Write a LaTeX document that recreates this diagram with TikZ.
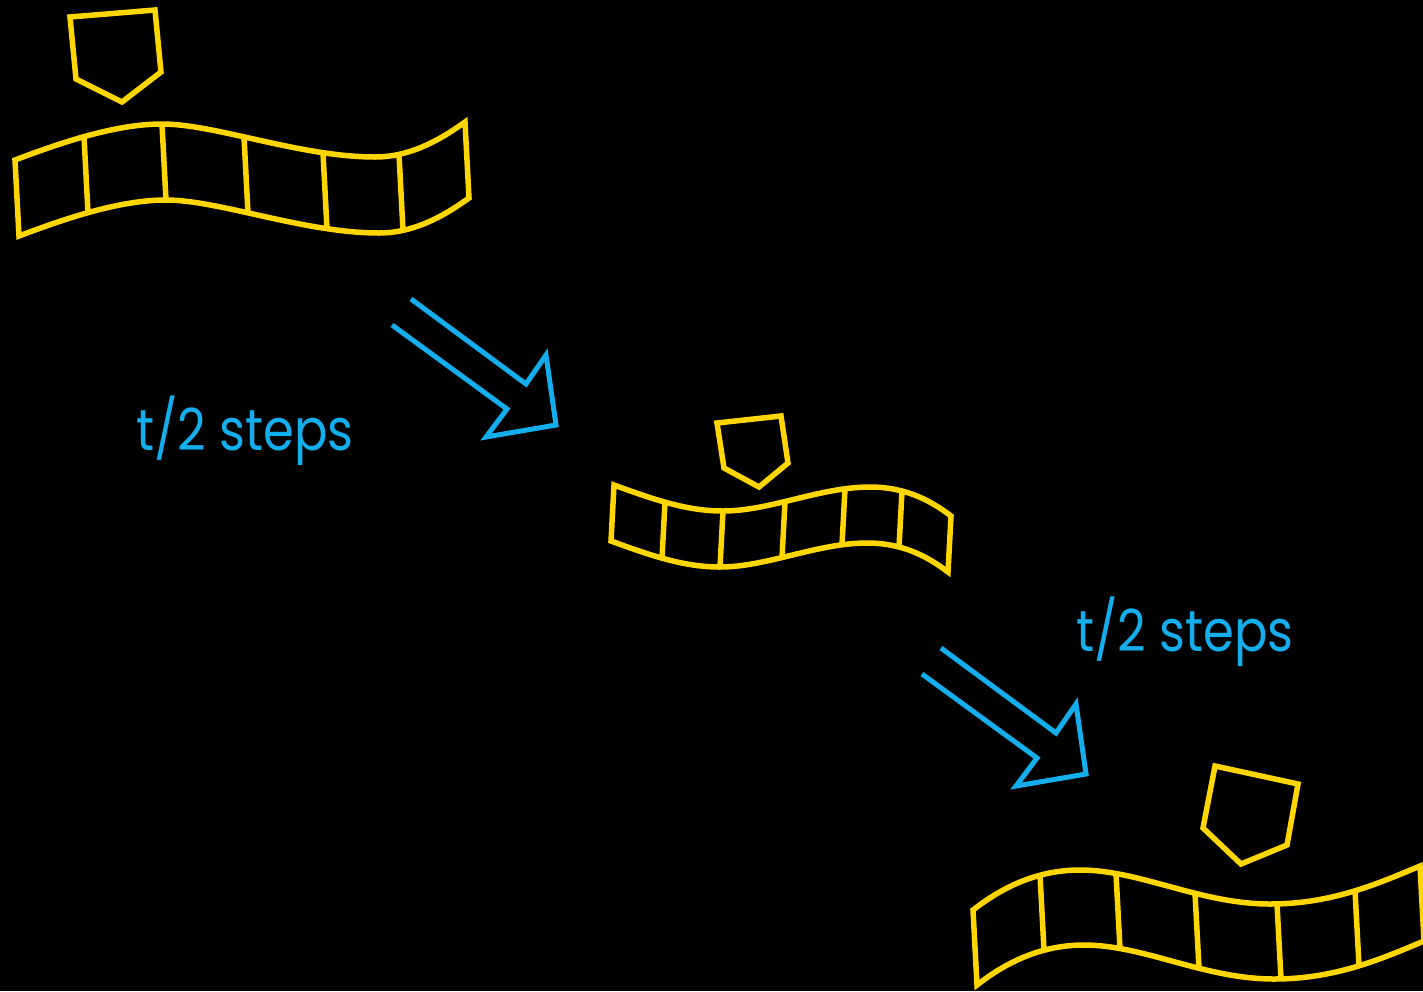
\documentclass[tikz,border=0pt]{standalone}
\usepackage{fontspec}
\setmainfont{Poppins}
\usetikzlibrary{intersections}
\definecolor{tapeyellow}{RGB}{255,214,0}
\definecolor{arrowblue}{RGB}{20,174,237}
\begin{document}
\begin{tikzpicture}[x=1pt,y=-1pt,
  tape/.style={draw=tapeyellow, line width=5.5pt, line join=miter},
  headbox/.style={draw=tapeyellow, line width=5.5pt, line join=miter},
  blockarrow/.style={draw=arrowblue, line width=5pt, line join=miter},
  lbl/.style={text=arrowblue, font=\fontsize{58}{62}\selectfont, anchor=base west, inner sep=0pt}]
\useasboundingbox (0,0) rectangle (1423,991);
\fill[black] (0,0) rectangle (1423,991);
\begin{scope}
\clip (0,0) rectangle (1423,991);
% ---- tape 1
\path[name path=up1] (15,160) .. controls (60,143) and (115,124) .. (162,124) .. controls (215,124) and (300,157) .. (375,157) .. controls (410,157) and (440,140) .. (465,122);
\draw[tape] (15,160) .. controls (60,143) and (115,124) .. (162,124) .. controls (215,124) and (300,157) .. (375,157) .. controls (410,157) and (440,140) .. (465,122) -- (469,198) .. controls (444,216) and (414,233) .. (379,233) .. controls (304,233) and (219,200) .. (166,200) .. controls (119,200) and (64,219) .. (19,236) -- cycle;
\foreach \x in {84,162,244,323,399} {
  \path[name path=vline] (\x,0) -- (\x,991);
  \draw[tape, name intersections={of=up1 and vline}] (intersection-1) -- ++(4,76);
}
\draw[headbox] (70,17) -- (155,10) -- (161,72) -- (122,102) -- (76,79) -- cycle;
% ---- tape 2
\path[name path=up2] (614,485) .. controls (660,502) and (690,511) .. (723,511) .. controls (770,511) and (820,487) .. (870,487) .. controls (905,487) and (930,500) .. (951,516);
\draw[tape] (614,485) .. controls (660,502) and (690,511) .. (723,511) .. controls (770,511) and (820,487) .. (870,487) .. controls (905,487) and (930,500) .. (951,516) -- (948,572) .. controls (927,556) and (902,543) .. (867,543) .. controls (817,543) and (767,567) .. (720,567) .. controls (687,567) and (657,558) .. (611,541) -- cycle;
\foreach \x in {665,723,785,845,902} {
  \path[name path=vline] (\x,0) -- (\x,991);
  \draw[tape, name intersections={of=up2 and vline}] (intersection-1) -- ++(-3,56);
}
\draw[headbox] (717,423) -- (781,416) -- (788,463) -- (759,487) -- (724,468) -- cycle;
% ---- tape 3
\path[name path=up3] (973,910) .. controls (1005,885) and (1040,870) .. (1080,870) .. controls (1140,870) and (1200,904) .. (1270,904) .. controls (1330,904) and (1375,885) .. (1420,866);
\draw[tape] (973,910) .. controls (1005,885) and (1040,870) .. (1080,870) .. controls (1140,870) and (1200,904) .. (1270,904) .. controls (1330,904) and (1375,885) .. (1420,866) -- (1424,941) .. controls (1379,960) and (1334,979) .. (1274,979) .. controls (1204,979) and (1144,945) .. (1084,945) .. controls (1044,945) and (1009,960) .. (977,985) -- cycle;
\foreach \x in {1040,1116,1195,1277,1355} {
  \path[name path=vline] (\x,0) -- (\x,991);
  \draw[tape, name intersections={of=up3 and vline}] (intersection-1) -- ++(4,75);
}
\draw[headbox] (1215,766) -- (1298,784) -- (1287,845) -- (1241,864) -- (1203,828) -- cycle;
% ---- arrows
\draw[blockarrow] (411,299) -- (526,384) -- (546,355) -- (556,425) -- (486,437) -- (507,409) -- (392,325);
\draw[blockarrow, shift={(530,349)}] (411,299) -- (526,384) -- (546,355) -- (556,425) -- (486,437) -- (507,409) -- (392,325);
\end{scope}
% ---- labels
\node[lbl] (steps1) at (136,450) {\scalebox{0.855}[1]{t/2 steps}};
\node[lbl] (steps2) at (1076,651) {\scalebox{0.855}[1]{t/2 steps}};
\end{tikzpicture}
\end{document}
